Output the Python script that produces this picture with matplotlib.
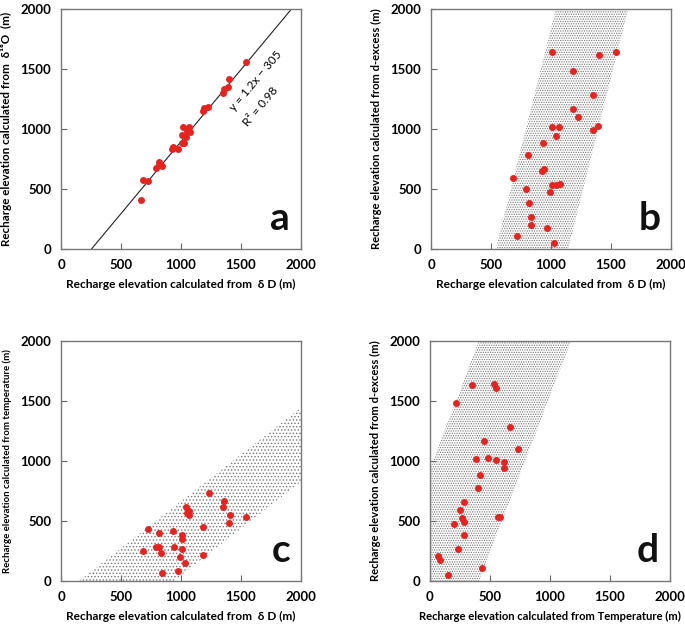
import matplotlib
matplotlib.use("Agg")
import matplotlib.pyplot as plt
import numpy as np

plt.rcParams['font.family'] = ['Lato', 'DejaVu Sans']
plt.rcParams['font.weight'] = 'bold'
plt.rcParams['hatch.linewidth'] = 0.6

# panel a: dD vs d18O
a_x = [1542, 1403, 1392, 1356, 1350, 1189, 1183, 1228, 1014, 1069, 1050, 1075, 1006, 1044,
       1008, 1028, 933, 925, 972, 814, 819, 842, 792, 686, 728, 664]
a_y = [1561, 1419, 1350, 1331, 1303, 1172, 1150, 1186, 1014, 1014, 986, 972, 950, 936,
       886, 880, 853, 830, 833, 722, 697, 694, 675, 572, 567, 405]
fit_slope = 1.2
fit_icpt = -305

# panel b: dD vs d-excess
b_x = [1011, 1403, 1542, 1183, 1353, 1186, 1228, 1006, 1067, 1042, 1347, 1394, 931, 811,
       944, 922, 683, 789, 1006, 1042, 1072, 994, 817, 833, 836, 969, 719, 1028]
b_y = [1639, 1614, 1644, 1481, 1281, 1169, 1103, 1017, 1014, 944, 994, 1022, 881, 781,
       667, 647, 592, 497, 531, 536, 542, 475, 386, 264, 203, 178, 111, 53]
b_band_left = [540, 1040]    # x at y=0 and y=2000
b_band_right = [1143, 1643]

# panel c: dD vs temperature
c_x = [1231, 1356, 1347, 1044, 1069, 1047, 1069, 1406, 1542, 1397, 1186, 722, 814, 933,
       1006, 1011, 789, 817, 942, 683, 833, 1006, 992, 1031, 1186, 972, 839]
c_y = [731, 664, 614, 614, 581, 567, 550, 547, 531, 481, 447, 433, 397, 414,
       381, 347, 283, 283, 283, 250, 233, 264, 200, 150, 214, 83, 64]
c_band_upper = [150, 2000, 0, 1445]   # x0, x1, y0, y1
c_band_lower = [940, 2000, 0, 828]

# panel d: temperature vs d-excess
d_x = [350, 533, 553, 217, 664, 450, 733, 383, 483, 553, 617, 617, 417, 400, 281, 250,
       264, 283, 197, 567, 586, 281, 233, 64, 86, 433, 150]
d_y = [1636, 1644, 1611, 1481, 1281, 1167, 1103, 1019, 1025, 1011, 994, 944, 881, 778, 661, 589,
       528, 494, 478, 536, 536, 386, 264, 206, 178, 111, 53]
d_band_left = [-359, 408]
d_band_right = [408, 1175]

ticks = [0, 500, 1000, 1500, 2000]
red = '#e5231f'
dots = '#777777'

fig = plt.figure(figsize=(6.85, 6.25), dpi=100)
W, H = 685, 625


def make_ax(left, top):
    ax = fig.add_axes([left / W, (H - top - 240) / H, 240 / W, 240 / H])
    ax.set_xlim(0, 2000)
    ax.set_ylim(0, 2000)
    ax.set_xticks(ticks, [str(t) for t in ticks], fontweight='bold')
    ax.set_yticks(ticks, [str(t) for t in ticks], fontweight='bold')
    ax.tick_params(direction='in', length=4, width=0.8, color='#666666',
                   labelsize=9.5, pad=7)
    for s in ax.spines.values():
        s.set_color('#777777')
        s.set_linewidth(1.0)
    return ax


def labels(ax, xl, yl, xfs, yfs):
    ax.set_xlabel(xl, fontsize=xfs, fontweight='bold', labelpad=6)
    ax.set_ylabel(yl, fontsize=yfs, fontweight='bold', labelpad=6)


def letter(ax, ch):
    ax.text(0.955, 0.055, ch, transform=ax.transAxes, fontsize=28, fontweight='bold',
            ha='right', va='bottom', color='#111111')


yv = np.array([0, 2000])

# a
ax = make_ax(61, 9)
xx = (yv - fit_icpt) / fit_slope
ax.plot(xx, fit_slope * xx + fit_icpt, color='#222222', lw=0.8)
ax.plot(a_x, a_y, 'o', color=red, ms=5, mec='none')
ax.text(1625, 1405, 'y = 1.2x − 305', rotation=50, fontsize=8.5, fontweight='normal',
        ha='center', va='center')
ax.text(1665, 1190, 'R² = 0.98', rotation=50, fontsize=8.5, fontweight='normal',
        ha='center', va='center')
labels(ax, 'Recharge elevation calculated from  δ D (m)',
       'Recharge elevation calculated from  δ¹⁸O  (m)', 8.6, 8.4)
letter(ax, 'a')

# b
ax = make_ax(431, 9)
ax.fill_betweenx(yv, b_band_left, b_band_right, facecolor='none', edgecolor=dots,
                 hatch='.......', linewidth=0)
ax.plot(b_x, b_y, 'o', color=red, ms=5, mec='none')
labels(ax, 'Recharge elevation calculated from  δ D (m)',
       'Recharge elevation calculated from d-excess (m)', 8.6, 8.1)
letter(ax, 'b')

# c
ax = make_ax(61, 341)
cx = np.array([c_band_upper[0], c_band_lower[0], 2000])
up = np.interp(cx, c_band_upper[:2], c_band_upper[2:])
lo = np.interp(cx, c_band_lower[:2], c_band_lower[2:], left=0)
ax.fill_between(cx, lo, up, facecolor='none', edgecolor='#777777',
                hatch='.....', linewidth=0)
ax.plot(c_x, c_y, 'o', color=red, ms=5, mec='none')
labels(ax, 'Recharge elevation calculated from  δ D (m)',
       'Recharge elevation calculated from temperature (m)', 8.6, 6.9)
letter(ax, 'c')

# d
ax = make_ax(430, 341)
ax.fill_betweenx(yv, d_band_left, d_band_right, facecolor='none', edgecolor=dots,
                 hatch='.......', linewidth=0)
ax.plot(d_x, d_y, 'o', color=red, ms=5, mec='none')
labels(ax, 'Recharge elevation calculated from Temperature (m)',
       'Recharge elevation calculated from d-excess (m)', 8.1, 8.1)
letter(ax, 'd')

fig.savefig('out.png', dpi=100)
